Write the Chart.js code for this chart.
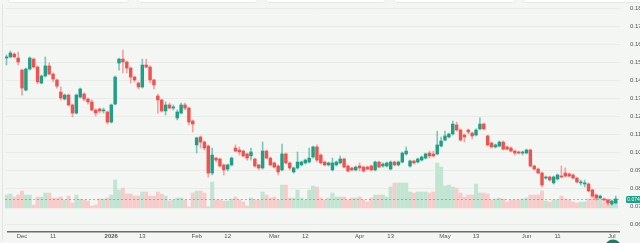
<!DOCTYPE html>
<html>
<head>
<meta charset="utf-8">
<script src="https://cdn.jsdelivr.net/npm/chart.js@4.4.1/dist/chart.umd.min.js"></script>
<style>
  html, body { margin: 0; padding: 0; background: #f4f6f4; }
  canvas { display: block; }
</style>
</head>
<body>
<canvas id="chart" width="640" height="243"></canvas>
<script>
// daily candles, 25 Nov 2025 .. 2 Jul 2026 (weekdays)
var openP = [
  0.1525, 0.1531, 0.1547, 0.1525, 0.1458, 0.1347, 0.1464, 0.1519, 0.1475, 0.1386,
  0.1425, 0.1481, 0.1436, 0.1403, 0.1336, 0.1297, 0.1319, 0.1264, 0.1219, 0.1308,
  0.1325, 0.1297, 0.1281, 0.1236, 0.1242, 0.1231, 0.1225, 0.1169, 0.1269, 0.1497,
  0.1519, 0.1503, 0.1469, 0.1419, 0.1386, 0.1364, 0.1486, 0.1475, 0.1403, 0.1314,
  0.1292, 0.1231, 0.1264, 0.1247, 0.1192, 0.1219, 0.1264, 0.1247, 0.1175, 0.1042,
  0.1086, 0.1058, 0.1036, 0.0886, 0.0969, 0.0964, 0.0931, 0.0908, 0.0931, 0.1025,
  0.1014, 0.1008, 0.0992, 0.0981, 0.0964, 0.0931, 0.0914, 0.1008, 0.0969, 0.0942,
  0.0925, 0.0903, 0.0992, 0.0942, 0.0892, 0.0914, 0.0931, 0.0942, 0.0947, 0.0975,
  0.1031, 0.0986, 0.0947, 0.0931, 0.0903, 0.0931, 0.0942, 0.0964, 0.0925, 0.0914,
  0.0903, 0.0925, 0.0919, 0.0919, 0.0925, 0.0903, 0.0947, 0.0925, 0.0925, 0.0908,
  0.0947, 0.0931, 0.0947, 0.0992, 0.0925, 0.0953, 0.0947, 0.0958, 0.0969, 0.0997,
  0.0992, 0.0992, 0.1036, 0.1069, 0.1086, 0.1103, 0.1153, 0.1125, 0.1097, 0.1125,
  0.1108, 0.1097, 0.1131, 0.1158, 0.1092, 0.1053, 0.1031, 0.1036, 0.1058, 0.1031,
  0.1025, 0.1008, 0.1003, 0.0997, 0.0997, 0.1014, 0.0925, 0.0908, 0.0886, 0.0858,
  0.0864, 0.0831, 0.0853, 0.0869, 0.0886, 0.0881, 0.0875, 0.0858, 0.0831, 0.0825,
  0.0825, 0.0792, 0.0764, 0.0747, 0.0742, 0.0736, 0.0714, 0.0720
];
var highP = [
  0.1542, 0.1564, 0.1553, 0.1558, 0.1464, 0.1469, 0.1531, 0.1525, 0.1481, 0.1431,
  0.1531, 0.1497, 0.1442, 0.1408, 0.1364, 0.1325, 0.1325, 0.1269, 0.1325, 0.1358,
  0.1331, 0.1303, 0.1292, 0.1242, 0.1247, 0.1247, 0.1231, 0.1269, 0.1425, 0.1525,
  0.1569, 0.1508, 0.1475, 0.1425, 0.1392, 0.1519, 0.1519, 0.1481, 0.1408, 0.1325,
  0.1297, 0.1281, 0.1275, 0.1264, 0.1236, 0.1275, 0.1275, 0.1253, 0.1181, 0.1086,
  0.1092, 0.1064, 0.1042, 0.1025, 0.0975, 0.0969, 0.0936, 0.0936, 0.0975, 0.1042,
  0.1031, 0.1014, 0.0997, 0.1025, 0.0969, 0.0936, 0.1058, 0.1014, 0.0975, 0.0947,
  0.0931, 0.1047, 0.0997, 0.0947, 0.0919, 0.1003, 0.0953, 0.0964, 0.1025, 0.1036,
  0.1042, 0.0992, 0.0953, 0.0947, 0.0969, 0.0953, 0.0981, 0.0969, 0.0931, 0.0919,
  0.0925, 0.0942, 0.0925, 0.0925, 0.0931, 0.0953, 0.0953, 0.0942, 0.0947, 0.0953,
  0.0953, 0.0953, 0.1003, 0.1031, 0.0958, 0.0958, 0.0969, 0.0981, 0.0997, 0.1008,
  0.1008, 0.1119, 0.1086, 0.1119, 0.1108, 0.1175, 0.1169, 0.1131, 0.1103, 0.1131,
  0.1114, 0.1131, 0.1192, 0.1164, 0.1097, 0.1058, 0.1047, 0.1064, 0.1064, 0.1036,
  0.1031, 0.1014, 0.1008, 0.1008, 0.1019, 0.1019, 0.0931, 0.0914, 0.0892, 0.0869,
  0.0869, 0.0869, 0.0881, 0.0925, 0.0914, 0.0886, 0.0881, 0.0864, 0.0847, 0.0847,
  0.0831, 0.0797, 0.0769, 0.0764, 0.0747, 0.0742, 0.0736, 0.0758
];
var lowP = [
  0.1486, 0.1525, 0.1525, 0.1486, 0.1319, 0.1342, 0.1458, 0.1469, 0.1381, 0.1381,
  0.1419, 0.1431, 0.1392, 0.1358, 0.1292, 0.1292, 0.1258, 0.1197, 0.1214, 0.1303,
  0.1286, 0.1269, 0.1231, 0.1203, 0.1219, 0.1219, 0.1158, 0.1164, 0.1264, 0.1458,
  0.1442, 0.1442, 0.1386, 0.1392, 0.1353, 0.1358, 0.1469, 0.1386, 0.1353, 0.1219,
  0.1225, 0.1208, 0.1242, 0.1236, 0.1181, 0.1214, 0.1236, 0.1153, 0.1114, 0.0997,
  0.1025, 0.1014, 0.0864, 0.0875, 0.0947, 0.0919, 0.0875, 0.0897, 0.0925, 0.1003,
  0.0986, 0.0975, 0.0958, 0.0958, 0.0919, 0.0903, 0.0908, 0.0964, 0.0925, 0.0914,
  0.0875, 0.0897, 0.0936, 0.0903, 0.0886, 0.0908, 0.0925, 0.0936, 0.0942, 0.0969,
  0.0947, 0.0936, 0.0925, 0.0925, 0.0897, 0.0925, 0.0936, 0.0914, 0.0892, 0.0897,
  0.0897, 0.0897, 0.0892, 0.0903, 0.0897, 0.0897, 0.0914, 0.0919, 0.0919, 0.0903,
  0.0925, 0.0925, 0.0942, 0.0986, 0.0919, 0.0936, 0.0942, 0.0953, 0.0964, 0.0969,
  0.0975, 0.0986, 0.1031, 0.1064, 0.1081, 0.1097, 0.1119, 0.1064, 0.1058, 0.1103,
  0.1075, 0.1092, 0.1125, 0.1125, 0.1036, 0.1025, 0.1025, 0.1031, 0.1014, 0.1014,
  0.1003, 0.0986, 0.0992, 0.0986, 0.0992, 0.0919, 0.0903, 0.0881, 0.0808, 0.0853,
  0.0842, 0.0825, 0.0847, 0.0858, 0.0864, 0.0864, 0.0853, 0.0831, 0.0819, 0.0808,
  0.0781, 0.0753, 0.0736, 0.0742, 0.0731, 0.0708, 0.0708, 0.0714
];
var closeP = [
  0.1531, 0.1553, 0.1531, 0.1503, 0.1358, 0.1464, 0.1525, 0.1475, 0.1392, 0.1425,
  0.1481, 0.1436, 0.1408, 0.1369, 0.1303, 0.1319, 0.1264, 0.1219, 0.1319, 0.1353,
  0.1297, 0.1281, 0.1236, 0.1219, 0.1231, 0.1236, 0.1169, 0.1264, 0.1419, 0.1519,
  0.1503, 0.1469, 0.1419, 0.1403, 0.1364, 0.1486, 0.1475, 0.1403, 0.1375, 0.1292,
  0.1231, 0.1264, 0.1247, 0.1253, 0.1225, 0.1264, 0.1247, 0.1169, 0.1158, 0.1081,
  0.1058, 0.1025, 0.0886, 0.0986, 0.0958, 0.0925, 0.0903, 0.0931, 0.0969, 0.1008,
  0.1003, 0.0981, 0.0969, 0.1003, 0.0925, 0.0914, 0.1008, 0.0969, 0.0931, 0.0919,
  0.0892, 0.0992, 0.0942, 0.0914, 0.0914, 0.0947, 0.0947, 0.0958, 0.0969, 0.1031,
  0.0958, 0.0942, 0.0931, 0.0942, 0.0942, 0.0947, 0.0964, 0.0919, 0.0897, 0.0903,
  0.0919, 0.0914, 0.0897, 0.0908, 0.0903, 0.0947, 0.0919, 0.0936, 0.0942, 0.0947,
  0.0931, 0.0947, 0.0997, 0.1008, 0.0953, 0.0942, 0.0964, 0.0975, 0.0992, 0.0981,
  0.0981, 0.1042, 0.1064, 0.1092, 0.1103, 0.1158, 0.1125, 0.1069, 0.1086, 0.1114,
  0.1092, 0.1125, 0.1158, 0.1131, 0.1042, 0.1031, 0.1042, 0.1058, 0.1019, 0.1019,
  0.1008, 0.0997, 0.0997, 0.1003, 0.1014, 0.0925, 0.0908, 0.0886, 0.0819, 0.0864,
  0.0847, 0.0864, 0.0875, 0.0864, 0.0869, 0.0869, 0.0858, 0.0836, 0.0836, 0.0831,
  0.0786, 0.0758, 0.0747, 0.0758, 0.0736, 0.0720, 0.0731, 0.0742
];
// volume, in 100k
var volume = [
  13, 14, 11, 13, 17, 13, 13, 3, 11, 11,
  15, 15, 10, 10, 11, 8, 12, 5, 13, 9,
  8, 7, 2, 3, 9, 9, 10, 13, 28, 18,
  20, 14, 14, 12, 12, 16, 16, 12, 12, 16,
  14, 12, 7, 8, 10, 10, 8, 1, 15, 17,
  17, 15, 1, 26, 8, 8, 7, 7, 9, 11,
  8, 6, 2, 10, 8, 8, 16, 13, 10, 11,
  8, 23, 23, 10, 10, 18, 10, 8, 18, 22,
  21, 10, 8, 10, 15, 11, 11, 11, 8, 10,
  10, 11, 8, 6, 10, 13, 13, 13, 11, 21,
  25, 25, 25, 25, 16, 15, 16, 16, 16, 15,
  16, 45, 41, 22, 23, 21, 20, 15, 11, 13,
  13, 24, 15, 15, 14, 8, 9, 10, 9, 6,
  8, 8, 8, 9, 10, 13, 13, 13, 17, 7,
  6, 8, 8, 12, 9, 8, 6, 5, 6, 6,
  9, 13, 11, 8, 6, 8, 5, 6
];

var tickIdx  = [4, 12, 27, 35, 49, 57, 69, 77, 91, 99, 113, 121, 134, 142, 156];
var tickText = ['Dec', '11', '2026', '13', 'Feb', '12', 'Mar', '12', 'Apr', '13', 'May', '13', 'Jun', '11', 'Jul'];
var priceTicks = [0.06, 0.07, 0.08, 0.09, 0.10, 0.11, 0.12, 0.13, 0.14, 0.15, 0.16, 0.17, 0.18];

var upColor = '#1fa086';
var downColor = '#ef5350';
var fontFamily = '"Liberation Sans", Arial, sans-serif';

var idx = openP.map(function(_, i) { return i; });
var isUp = idx.map(function(i) { return closeP[i] >= openP[i]; });

// keep the plot box fixed: no label overhang padding
function noPad(scale) {
    scale.paddingTop = 0;
    scale.paddingBottom = 0;
    scale.paddingLeft = 0;
    scale.paddingRight = 0;
}

var decor = {
    id: 'decor',
    beforeDraw: function(chart) {
	var ctx = chart.ctx;
	ctx.save();
	// panel edge on the left
	ctx.strokeStyle = '#e2e5e2';
	ctx.lineWidth = 1;
	ctx.beginPath();
	ctx.moveTo(2.5, 4);
	ctx.lineTo(2.5, 241);
	ctx.stroke();
	// bottoms of the header cards cut off at the top
	ctx.fillStyle = '#ffffff';
	ctx.strokeStyle = '#e4e7e4';
	[[8, 128], [137, 257], [265, 385], [393, 515], [522, 645]].forEach(function(c) {
	    ctx.beginPath();
	    ctx.roundRect(c[0] + 0.5, -6, c[1] - c[0], 8.5, 3);
	    ctx.fill();
	    ctx.stroke();
	});
	ctx.restore();
    },
    afterDatasetsDraw: function(chart) {
	var ctx = chart.ctx;
	var area = chart.chartArea;
	var last = closeP[closeP.length - 1];
	var y = Math.round(chart.scales.y.getPixelForValue(last)) + 0.5;
	ctx.save();
	// time axis line
	ctx.strokeStyle = '#6a6d6a';
	ctx.lineWidth = 1.5;
	ctx.beginPath();
	ctx.moveTo(area.left + 2, area.bottom + 0.75);
	ctx.lineTo(area.right, area.bottom + 0.75);
	ctx.stroke();
	// last price line + label
	ctx.strokeStyle = 'rgba(34,160,135,0.55)';
	ctx.lineWidth = 1;
	ctx.setLineDash([2, 2]);
	ctx.beginPath();
	ctx.moveTo(area.left, y);
	ctx.lineTo(area.right, y);
	ctx.stroke();
	ctx.setLineDash([]);
	ctx.fillStyle = upColor;
	ctx.beginPath();
	ctx.roundRect(area.right + 6, y - 3.5, 15, 7, 1.5);
	ctx.fill();
	ctx.fillStyle = '#ffffff';
	ctx.font = '5px ' + fontFamily;
	ctx.textAlign = 'center';
	ctx.textBaseline = 'middle';
	ctx.fillText(last.toFixed(3), area.right + 13.5, y + 0.3);
	// scroll button peeking at the bottom edge
	ctx.fillStyle = '#1f7a68';
	ctx.beginPath();
	ctx.arc(613, 247.5, 8, 0, Math.PI * 2);
	ctx.fill();
	ctx.restore();
    }
};

new Chart(document.getElementById('chart'), {
    type: 'bar',
    data: {
	datasets: [
	    {
		label: 'Body',
		data: idx.map(function(i) {
		    return { x: i, y: [Math.min(openP[i], closeP[i]), Math.max(openP[i], closeP[i])] };
		}),
		backgroundColor: isUp.map(function(u) { return u ? upColor : downColor; }),
		barThickness: 2.8,
		minBarLength: 1,
		grouped: false,
		order: 1,
		yAxisID: 'y'
	    },
	    {
		label: 'Wick',
		data: idx.map(function(i) { return { x: i, y: [lowP[i], highP[i]] }; }),
		backgroundColor: isUp.map(function(u) { return u ? 'rgba(31,160,134,0.55)' : 'rgba(239,83,80,0.5)'; }),
		barThickness: 1,
		grouped: false,
		order: 2,
		yAxisID: 'y'
	    },
	    {
		label: 'Volume',
		data: idx.map(function(i) { return { x: i, y: volume[i] }; }),
		backgroundColor: isUp.map(function(u) { return u ? '#c2e5d3' : '#f7cdcc'; }),
		barThickness: 3.4,
		grouped: false,
		order: 3,
		yAxisID: 'yv'
	    }
	]
    },
    options: {
	responsive: false,
	animation: false,
	devicePixelRatio: 1,
	layout: { padding: { left: 5, top: 0, right: 0, bottom: 0 } },
	plugins: { legend: { display: false }, tooltip: { enabled: false } },
	scales: {
	    x: {
		type: 'linear',
		min: -0.387,
		max: 158.1,
		offset: false,
		grid: { display: false, offset: false, drawTicks: false, tickLength: 0 },
		border: { display: false },
		afterBuildTicks: function(scale) {
		    scale.ticks = tickIdx.map(function(v) { return { value: v }; });
		},
		afterFit: function(scale) { scale.height = 12; noPad(scale); },
		ticks: {
		    autoSkip: false,
		    maxRotation: 0,
		    padding: 2,
		    color: '#555',
		    font: function(c) {
			var t = c.tick ? tickText[tickIdx.indexOf(c.tick.value)] : '';
			return { family: fontFamily, size: 6, weight: t === '2026' ? 'bold' : 'normal' };
		    },
		    callback: function(v) {
			var i = tickIdx.indexOf(v);
			return i >= 0 ? tickText[i] : '';
		    }
		}
	    },
	    y: {
		position: 'right',
		min: 0.056389,
		max: 0.184722,
		afterBuildTicks: function(scale) {
		    scale.ticks = priceTicks.map(function(v) { return { value: v }; });
		},
		afterFit: function(scale) { scale.width = 20; noPad(scale); },
		grid: { color: 'rgba(0,0,0,0.045)', drawTicks: true, tickLength: 9, tickColor: 'rgba(0,0,0,0)' },
		border: { display: false },
		ticks: {
		    padding: 1,
		    color: '#555',
		    font: { family: fontFamily, size: 6 },
		    callback: function(v) { return v.toFixed(2); }
		}
	    },
	    yv: {
		display: false,
		min: -23,
		max: 208
	    }
	}
    },
    plugins: [decor]
});
</script>
</body>
</html>
